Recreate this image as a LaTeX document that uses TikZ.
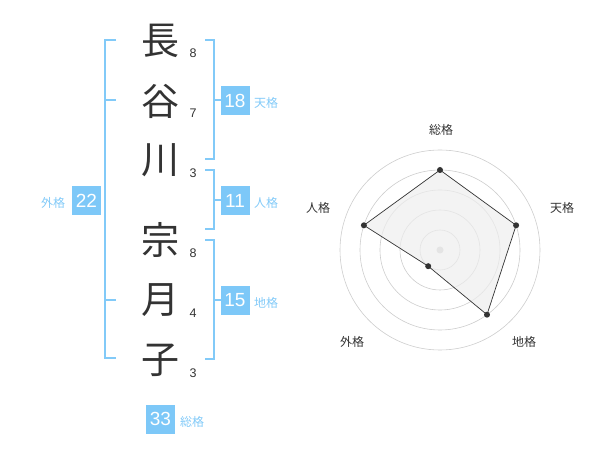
\documentclass[tikz,border=0pt]{standalone}
\usepackage{fontspec}
\setmainfont{Liberation Sans}
\newfontfamily\cjk{Noto Sans CJK JP}
\definecolor{lblue}{RGB}{130,202,248}
\definecolor{boxblue}{RGB}{125,200,248}
\definecolor{dgray}{RGB}{51,51,51}
\definecolor{cgray}{RGB}{205,205,205}
\definecolor{fillgray}{RGB}{238,238,238}
\begin{document}
\begin{tikzpicture}[x=1pt,y=-1pt,
  kanji/.style={font=\cjk\fontsize{38}{38}\selectfont, text=dgray, inner sep=0pt},
  strokes/.style={font=\fontsize{12.5}{12.5}\selectfont, text=dgray, inner sep=0pt},
  numbox/.style={fill=boxblue, text=white, minimum width=29pt, minimum height=29pt, inner sep=0pt, font=\fontsize{19}{19}\selectfont},
  kaku/.style={font=\cjk\fontsize{12}{12}\selectfont, text=lblue, inner sep=0pt},
  brk/.style={draw=lblue, line width=1.5pt},
  rlabel/.style={font=\cjk\fontsize{12}{12}\selectfont, text=dgray, inner sep=0pt},
  ring/.style={draw=cgray, line width=0.6pt},
  dot/.style={circle, fill=dgray, inner sep=0pt, minimum size=6pt}]
\useasboundingbox (0,0) rectangle (600,470);
% kanji
\node[kanji] (k1) at (160,41) {長};
\node[kanji] (k2) at (160,101) {谷};
\node[kanji] (k3) at (160,160) {川};
\node[kanji] (k4) at (160,240) {宗};
\node[kanji] (k5) at (160,300) {月};
\node[kanji] (k6) at (160,360) {子};
\node[strokes] (s1) at (193,53) {8};
\node[strokes] (s2) at (193,113) {7};
\node[strokes] (s3) at (193,173) {3};
\node[strokes] (s4) at (193,253) {8};
\node[strokes] (s5) at (193,313) {4};
\node[strokes] (s6) at (193,373) {3};
% brackets
\draw[brk] (116,40) -- (105,40) -- (105,358) -- (116,358);
\draw[brk] (105,100) -- (116,100);
\draw[brk] (105,300) -- (116,300);
\draw[brk] (205,40) -- (214,40) -- (214,159) -- (205,159);
\draw[brk] (214,100) -- (221,100);
\draw[brk] (205,170) -- (214,170) -- (214,229) -- (205,229);
\draw[brk] (214,200) -- (221,200);
\draw[brk] (205,240) -- (214,240) -- (214,359) -- (205,359);
\draw[brk] (214,300) -- (221,300);
% boxes
\node[numbox] (b22) at (86.5,200.5) {22};
\node[kaku] (l22) at (53,203) {外格};
\node[numbox] (b18) at (235,100.5) {18};
\node[kaku] (l18) at (266,103) {天格};
\node[numbox] (b11) at (235,200.5) {11};
\node[kaku] (l11) at (266,203) {人格};
\node[numbox] (b15) at (235,300.5) {15};
\node[kaku] (l15) at (266,303) {地格};
\node[numbox] (b33) at (160.5,419) {33};
\node[kaku] (l33) at (192,422) {総格};
% radar
\coordinate (c) at (440,250);
\foreach \r in {20,40,60,80,100} \draw[ring] (c) circle (\r);
\fill[cgray] (c) circle (3.5);
\coordinate (p1) at (440,170);
\coordinate (p2) at (516.1,225.3);
\coordinate (p3) at (487,314.7);
\coordinate (p4) at (428.2,266.2);
\coordinate (p5) at (363.9,225.3);
\filldraw[fill=fillgray, fill opacity=0.7, draw=dgray, line width=0.7pt] (p1) -- (p2) -- (p3) -- (p4) -- (p5) -- cycle;
\foreach \i in {1,...,5} \node[dot] (d\i) at (p\i) {};
\node[rlabel] (r1) at (441,130) {総格};
\node[rlabel] (r2) at (562,208) {天格};
\node[rlabel] (r3) at (524,342) {地格};
\node[rlabel] (r4) at (352,342) {外格};
\node[rlabel] (r5) at (318,208) {人格};
\end{tikzpicture}
\end{document}
